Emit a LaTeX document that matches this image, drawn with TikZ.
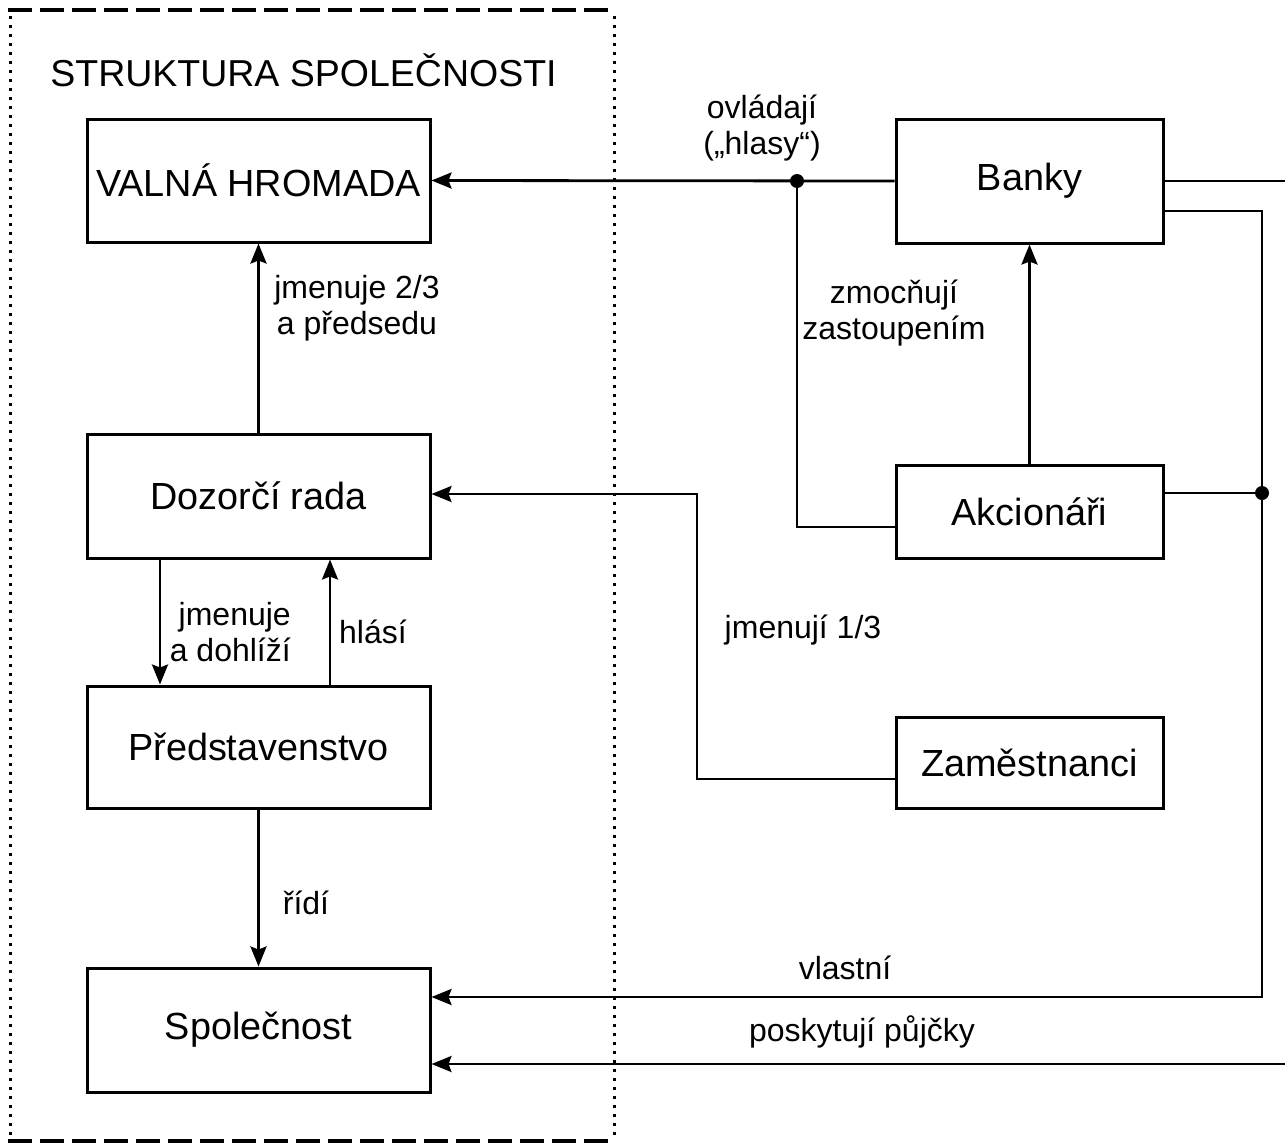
\documentclass[tikz,border=0pt]{standalone}
\usepackage{fontspec}
\setmainfont{Liberation Sans}
\usetikzlibrary{arrows.meta,calc}
\begin{document}
\begin{tikzpicture}[x=1pt,y=-1pt,
  box/.style={draw,line width=3pt,inner sep=0pt,minimum width=#1,font=\fontsize{37.8}{42}\selectfont},
  box/.default=343pt,
  conn/.style={line width=2.8pt},
  arr/.style={conn,-{Stealth[length=20pt,width=16pt,inset=3pt]}},
  lbl/.style={font=\fontsize{32}{36}\selectfont,align=center,inner sep=0pt},
  jdot/.style={circle,fill=black,inner sep=0pt,minimum size=14pt},
  line join=miter]
\useasboundingbox (0,0) rectangle (1285,1143);
% group frame
\draw[line width=4pt,dash pattern=on 24pt off 8pt] (8,10) -- (615,10);
\draw[line width=4pt,dash pattern=on 24pt off 8pt] (8,1141) -- (615,1141);
\draw[line width=3pt,dash pattern=on 3pt off 6pt] (10,16) -- (10,1136);
\draw[line width=3pt,dash pattern=on 3pt off 6pt] (614,16) -- (614,1136);
\node[font=\fontsize{37.5}{42}\selectfont,inner sep=0pt] (title) at (303.5,70) {STRUKTURA SPOLEČNOSTI};
% boxes
\node[box,minimum height=123pt] (valna) at (258.5,180.5) {VALNÁ HROMADA};
\node[box,minimum height=124pt] (dozor) at (258.5,496) {Dozorčí rada};
\node[box,minimum height=122pt] (pred) at (258.5,747) {Představenstvo};
\node[box,minimum height=124pt] (spol) at (258.5,1030) {Společnost};
\node[box=267pt,minimum height=124pt] (banky) at (1029.5,181) {Banky};
\node[box=267pt,minimum height=93pt] (akc) at (1029.5,511.5) {Akcionáři};
\node[box=267pt,minimum height=91pt] (zam) at (1029.5,762.5) {Zaměstnanci};
% junctions and free ends
\node[jdot] (j1) at (797,181) {};
\node[jdot] (j2) at (1262,493) {};
\coordinate (akcL) at (896,527);
\coordinate (bR1) at (1285,181);
\coordinate (bR2) at (1163,211);
\coordinate (cR2) at (1262,211);
\coordinate (cV) at (1262,997);
\coordinate (cP) at (1285,1064);
\coordinate (zL) at (697,779);
\coordinate (zU) at (697,494);
% connectors
\draw[arr] (banky.west) -- (valna.east);
\draw[conn] (j1.center) |- (akcL);
\draw[arr] (akc.north) -- (banky.south);
\draw[conn] (akc.east |- j2) -- (j2.center);
\draw[conn] (banky.east) -- (bR1);
\draw[arr] (bR2) -- (cR2) -- (cV) -- (spol.east |- cV);
\draw[arr] (cP) -- (spol.east |- cP);
\draw[arr] (zam.west |- zL) -- (zL) -- (zU) -- (dozor.east |- zU);
\draw[arr] (dozor.north) -- (valna.south);
\draw[arr] (dozor.south -| 160,0) -- (pred.north -| 160,0);
\draw[arr] (pred.north -| 330,0) -- (dozor.south -| 330,0);
\draw[arr] (pred.south) -- (spol.north);
% labels
\node[lbl] (l1) at (762,128) {ovládají\\(„hlasy“)};
\node[lbl] (l2) at (894,313) {zmocňují\\zastoupením};
\node[lbl] (l3) at (357,308) {jmenuje 2/3\\a předsedu};
\node[lbl,align=right,anchor=east] (l4) at (291,632) {jmenuje\\a dohlíží};
\node[lbl] (l5) at (373,632) {hlásí};
\node[lbl] (l6) at (306,903) {řídí};
\node[lbl] (l7) at (803,630) {jmenují 1/3};
\node[lbl] (l8) at (845,968) {vlastní};
\node[lbl] (l9) at (862,1032) {poskytují půjčky};
\end{tikzpicture}
\end{document}
